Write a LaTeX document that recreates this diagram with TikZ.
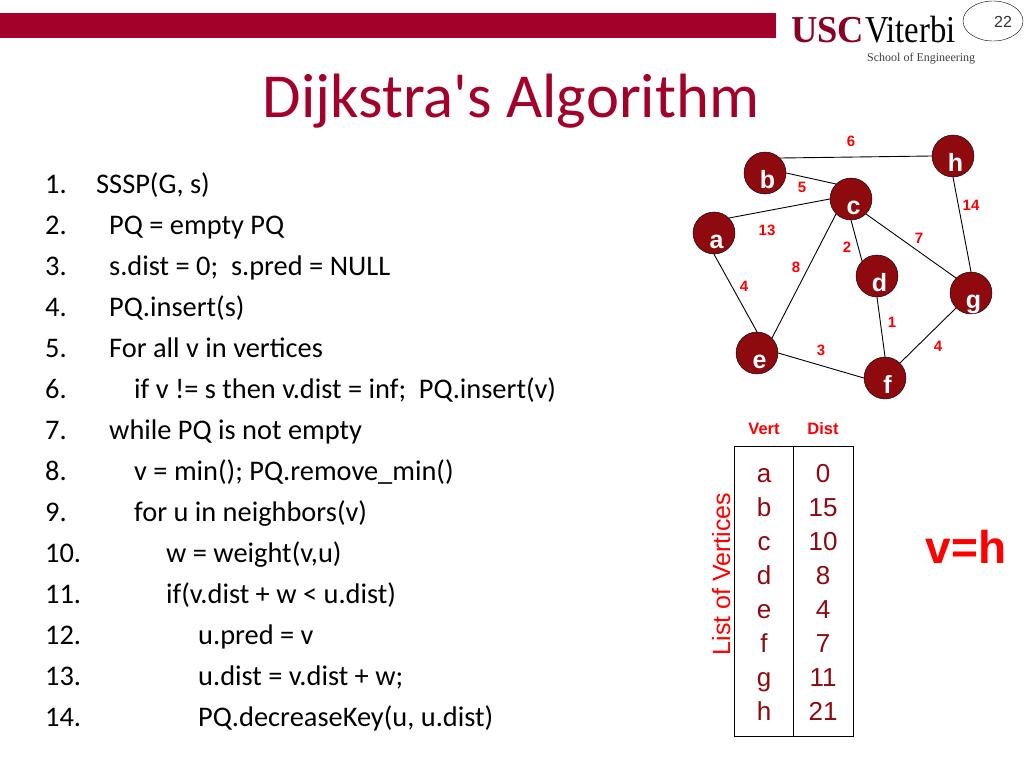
\documentclass[tikz,border=0pt]{standalone}
\usepackage{fontspec}
\setmainfont{Liberation Sans}
\newfontfamily\slidefont{Carlito}
\newfontfamily\logofont{Liberation Serif}
\usetikzlibrary{shapes.geometric}
\definecolor{cardinal}{HTML}{A3002A}
\definecolor{vertred}{HTML}{8E0A0F}
\tikzset{
  vert/.style={circle,draw=black,fill=vertred,minimum size=42pt,inner sep=0pt,text=white,
    font=\fontsize{25}{25}\bfseries\selectfont,text height=30pt,text depth=0pt,
    execute at begin node=\hskip 5pt},
  weight/.style={text=red,inner sep=0pt,font=\fontsize{15}{15}\bfseries\selectfont},
  head/.style={text=red,inner sep=0pt,font=\fontsize{16.5}{16.5}\bfseries\selectfont},
  edge/.style={draw=black,line width=0.9pt},
  cell/.style={anchor=base,inner sep=0pt,text=vertred,font=\fontsize{26}{26}\selectfont},
  code/.style={anchor=base west,inner sep=0pt,font=\slidefont\fontsize{28.4}{28.4}\selectfont}
}
\begin{document}
\begin{tikzpicture}[x=1pt,y=-1pt]
\useasboundingbox (0,0) rectangle (1024,768);
% header
\fill[cardinal] (0,13) rectangle (776,38);
\node[inner sep=0pt,anchor=base west,xscale=0.96,text=cardinal!85!black,font=\logofont\fontsize{38}{38}\bfseries\selectfont] (usc) at (791,42) {USC};
\node[inner sep=0pt,anchor=base west,xscale=0.86,font=\logofont\fontsize{38}{38}\selectfont] (viterbi) at (865,42) {Viterbi};
\node[inner sep=0pt,anchor=base west,text=black!75,font=\logofont\fontsize{12}{12}\selectfont] (school) at (867,62) {School of Engineering};
\node[ellipse,draw=black,minimum width=60pt,minimum height=40pt] (pageoval) at (993,21) {};
\node[inner sep=0pt,font=\fontsize{16}{16}\selectfont,text=black!80] (pagenum) at (1003,22) {22};
\node[inner sep=0pt,anchor=base,text=cardinal,font=\slidefont\fontsize{62.6}{62.6}\selectfont] (title) at (511,117) {Dijkstra's Algorithm};
% pseudocode
\foreach \i/\x/\t in {1/96/{SSSP(G, s)},2/109/{PQ = empty PQ},3/109/{s.dist = 0;\ \ s.pred = NULL},4/109/{PQ.insert(s)},
  5/109/{For all v in vertices},6/134/{if v != s then v.dist = inf;\ \ PQ.insert(v)},7/109/{while PQ is not empty},
  8/134/{v = min(); PQ.remove\_min()},9/134/{for u in neighbors(v)},10/166/{w = weight(v,u)},
  11/166/{if(v.dist + w < u.dist)},12/198/{u.pred = v},13/198/{u.dist = v.dist + w;},14/198/{PQ.decreaseKey(u, u.dist)}}{
  \node[code] (num\i) at (45,{193+41*(\i-1)}) {\i.};
  \node[code] (line\i) at (\x,{193+41*(\i-1)}) {\t};
}
% graph
\node[vert] (a) at (714,233) {a};
\node[vert] (b) at (765,173) {b};
\node[vert] (c) at (851,199) {c};
\node[vert] (d) at (877,276) {d};
\node[vert] (e) at (757,353) {e};
\node[vert] (f) at (885,378) {f};
\node[vert] (g) at (971,293) {g};
\node[vert] (h) at (953,156) {h};
\draw[edge] (b.45) -- (h.west);
\draw[edge] (b.east) -- (c.135);
\draw[edge] (a.45) -- (c.west);
\draw[edge] (a.south) -- (e.north);
\draw[edge] (c.225) -- (e.45);
\draw[edge] (c.south) -- (d.135);
\draw[edge] (c.315) -- (g.135);
\draw[edge] (d.south) -- (f.north);
\draw[edge] (e.east) -- (f.west);
\draw[edge] (f.45) -- (g.225);
\draw[edge] (h.south) -- (g.north);
\node[weight] (wbh) at (851,141) {6};
\node[weight] (wbc) at (802,187) {5};
\node[weight] (wac) at (767,230) {13};
\node[weight] (wcd) at (847,247) {2};
\node[weight] (wce) at (796,267) {8};
\node[weight] (wae) at (744,286) {4};
\node[weight] (wcg) at (919,238) {7};
\node[weight] (whg) at (971,205) {14};
\node[weight] (wdf) at (892,322) {1};
\node[weight] (wfg) at (938,346) {4};
\node[weight] (wef) at (821,350) {3};
% table
\draw[draw=black,line width=0.9pt] (734,446) rectangle (853,736);
\draw[draw=black,line width=0.9pt] (793,446) -- (793,736);
\node[head] (vhead) at (764,429) {Vert};
\node[head] (dhead) at (823,429) {Dist};
\foreach \i/\v/\d in {0/a/0,1/b/15,2/c/10,3/d/8,4/e/4,5/f/7,6/g/11,7/h/21}{
  \node[cell] (vert\i) at (764,{482+34*\i}) {\v};
  \node[cell] (dist\i) at (823,{482+34*\i}) {\d};
}
\node[rotate=90,anchor=base,inner sep=0pt,text=red,font=\fontsize{25}{25}\selectfont] (listlabel) at (730,574) {List of Vertices};
\node[anchor=base,inner sep=0pt,text=red,font=\fontsize{46}{46}\bfseries\selectfont] (current) at (966,563) {v=h};
\end{tikzpicture}
\end{document}
